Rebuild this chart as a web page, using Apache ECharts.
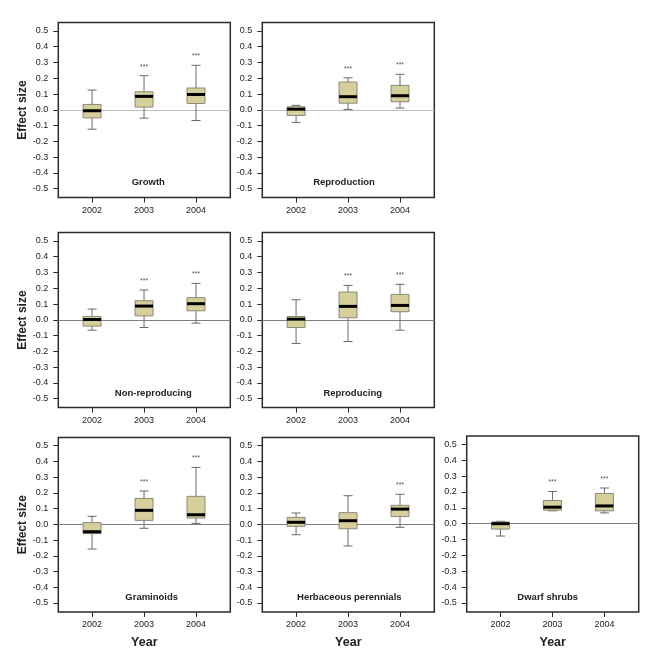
<!DOCTYPE html>
<html>
<head>
<meta charset="utf-8">
<script src="https://cdn.jsdelivr.net/npm/echarts@6/dist/echarts.min.js"></script>
<style>
html,body{margin:0;padding:0;background:#fff;}
#chart{width:666px;height:666px;}
</style>
</head>
<body>
<div id="chart"></div>
<script>
// ---- data ----
const years = [2002, 2003, 2004];
const yTicks = [-0.5, -0.4, -0.3, -0.2, -0.1, 0, 0.1, 0.2, 0.3, 0.4, 0.5];
const panelNames = ['Growth', 'Reproduction', 'Non-reproducing', 'Reproducing', 'Graminoids', 'Herbaceous perennials', 'Dwarf shrubs'];
// each row: [lower whisker, Q1, median, Q3, upper whisker]
const growth = [
  [-0.123, -0.051, -0.006, 0.034, 0.125],
  [-0.053, 0.017, 0.085, 0.114, 0.216],
  [-0.068, 0.040, 0.097, 0.138, 0.282]
];
const reproduction = [
  [-0.080, -0.036, 0.004, 0.019, 0.028],
  [0.002, 0.042, 0.083, 0.176, 0.203],
  [0.011, 0.051, 0.089, 0.155, 0.225]
];
const nonReproducing = [
  [-0.066, -0.040, 0.002, 0.021, 0.068],
  [-0.049, 0.025, 0.087, 0.121, 0.189],
  [-0.021, 0.057, 0.102, 0.140, 0.231]
];
const reproducing = [
  [-0.150, -0.049, 0.004, 0.021, 0.127],
  [-0.138, 0.013, 0.085, 0.176, 0.218],
  [-0.066, 0.051, 0.091, 0.161, 0.225]
];
const graminoids = [
  [-0.157, -0.059, -0.047, 0.011, 0.051],
  [-0.025, 0.025, 0.089, 0.165, 0.212],
  [0.006, 0.040, 0.061, 0.178, 0.362]
];
const herbaceous = [
  [-0.066, -0.013, 0.013, 0.044, 0.072],
  [-0.138, -0.028, 0.023, 0.074, 0.182],
  [-0.019, 0.049, 0.097, 0.121, 0.191]
];
const dwarfShrubs = [
  [-0.078, -0.034, 0.000, 0.011, 0.015],
  [0.081, 0.085, 0.104, 0.146, 0.203],
  [0.068, 0.081, 0.112, 0.191, 0.225]
];
const significance = [
  ['', '***', '***'],
  ['', '***', '***'],
  ['', '***', '***'],
  ['', '***', '***'],
  ['', '***', '***'],
  ['', '', '***'],
  ['', '***', '***']
];
const panelData = [growth, reproduction, nonReproducing, reproducing, graminoids, herbaceous, dwarfShrubs];

// ---- layout ----
const layout = [
  {left: 58.3, top: 22.6, width: 172, height: 175, yName: true, xName: false, title: [148.3, 182.3], zero: '#bdbdbd'},
  {left: 262.3, top: 22.6, width: 172, height: 175, yName: false, xName: false, title: [344, 182.3], zero: '#bdbdbd'},
  {left: 58.3, top: 232.6, width: 172, height: 175, yName: true, xName: false, title: [153.3, 393.7], zero: '#808080'},
  {left: 262.3, top: 232.6, width: 172, height: 175, yName: false, xName: false, title: [352.7, 393.7], zero: '#808080'},
  {left: 58.3, top: 437.4, width: 172, height: 174.5, yName: true, xName: true, title: [151.7, 597.3], zero: '#808080'},
  {left: 262.3, top: 437.4, width: 172, height: 174.5, yName: false, xName: true, title: [349.3, 597.7], zero: '#808080'},
  {left: 466.7, top: 436, width: 172, height: 176, yName: false, xName: true, title: [547.7, 597.3], zero: '#808080'}
];

const FONT = '"Liberation Sans", Arial, sans-serif';
const grids = [], xAxes = [], yAxes = [], series = [], graphics = [];

layout.forEach((L, i) => {
  grids.push({
    left: L.left, top: L.top, width: L.width, height: L.height,
    show: true, borderColor: '#2b2b2b', borderWidth: 1.5, backgroundColor: 'transparent'
  });
  xAxes.push({
    type: 'value', gridIndex: i, min: 2001.35, max: 2004.66,
    name: L.xName ? 'Year' : '', nameLocation: 'middle', nameGap: 24,
    nameTextStyle: {fontFamily: FONT, fontSize: 12.5, fontWeight: 'bold', color: '#222'},
    axisLine: {show: false, onZero: false},
    splitLine: {show: false},
    axisTick: {show: true, length: 5, customValues: years, lineStyle: {color: '#2b2b2b', width: 1}},
    axisLabel: {customValues: years, formatter: v => String(v), margin: 8,
      fontFamily: FONT, fontSize: 9, color: '#222'}
  });
  yAxes.push({
    type: 'value', gridIndex: i, min: -0.557, max: 0.553,
    name: L.yName ? 'Effect size' : '', nameLocation: 'middle', nameGap: 29, nameRotate: 90,
    nameTextStyle: {fontFamily: FONT, fontSize: 12, fontWeight: 'bold', color: '#222'},
    axisLine: {show: false, onZero: false},
    splitLine: {show: false},
    axisTick: {show: true, length: 5, customValues: yTicks, lineStyle: {color: '#2b2b2b', width: 1}},
    axisLabel: {customValues: yTicks, formatter: v => (Math.abs(v) < 1e-9 ? 0 : v).toFixed(1), margin: 10,
      fontFamily: FONT, fontSize: 9, color: '#222'}
  });
  // zero reference line (behind boxes)
  series.push({
    type: 'line', xAxisIndex: i, yAxisIndex: i, data: [], silent: true, z: 1,
    markLine: {
      silent: true, symbol: 'none', animation: false,
      label: {show: false},
      lineStyle: {color: L.zero, width: 1, type: 'solid'},
      data: [{yAxis: 0}]
    }
  });
  const sig = significance[i];
  const data = panelData[i].map((r, k) => [years[k]].concat(r));
  series.push({
    type: 'custom', xAxisIndex: i, yAxisIndex: i,
    data: data,
    encode: {x: 0, y: [1, 2, 3, 4, 5]},
    clip: false,
    silent: true,
    z: 5,
    renderItem: function (params, api) {
      const x = api.value(0);
      const lo = api.coord([x, api.value(1)]);
      const q1 = api.coord([x, api.value(2)]);
      const md = api.coord([x, api.value(3)]);
      const q3 = api.coord([x, api.value(4)]);
      const hi = api.coord([x, api.value(5)]);
      const cx = lo[0];
      const bw = 18, cw = 9;
      const wStyle = {stroke: '#6a6a6a', lineWidth: 1};
      const children = [
        {type: 'line', shape: {x1: cx, y1: lo[1], x2: cx, y2: hi[1]}, style: wStyle},
        {type: 'line', shape: {x1: cx - cw / 2, y1: lo[1], x2: cx + cw / 2, y2: lo[1]}, style: wStyle},
        {type: 'line', shape: {x1: cx - cw / 2, y1: hi[1], x2: cx + cw / 2, y2: hi[1]}, style: wStyle},
        {type: 'rect', shape: {x: cx - bw / 2, y: q3[1], width: bw, height: q1[1] - q3[1]},
          style: {fill: '#d6cf9c', stroke: '#8a8a78', lineWidth: 1}},
        {type: 'line', shape: {x1: cx - bw / 2, y1: md[1], x2: cx + bw / 2, y2: md[1]},
          style: {stroke: '#000', lineWidth: 3}}
      ];
      const s = sig[params.dataIndex];
      if (s) {
        children.push({type: 'text', x: cx, y: hi[1] - 9,
          style: {text: s, fill: '#555', fontSize: 7, fontFamily: FONT, align: 'center', verticalAlign: 'middle'}});
      }
      return {type: 'group', children: children};
    }
  });
  graphics.push({
    type: 'text', x: L.title[0], y: L.title[1],
    style: {text: panelNames[i], fill: '#222', font: 'bold 9.5px ' + FONT, align: 'center', verticalAlign: 'middle'}
  });
});

const chart = echarts.init(document.getElementById('chart'), null, {renderer: 'canvas'});
chart.setOption({
  animation: false,
  backgroundColor: '#fff',
  grid: grids,
  xAxis: xAxes,
  yAxis: yAxes,
  series: series,
  graphic: graphics
});
</script>
</body>
</html>
